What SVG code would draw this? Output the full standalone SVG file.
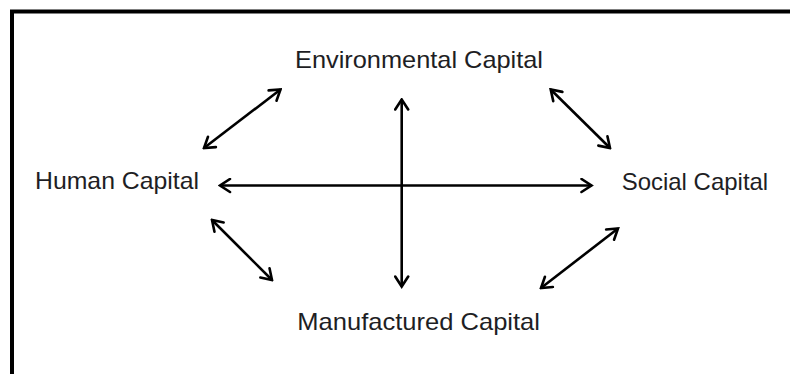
<svg xmlns="http://www.w3.org/2000/svg" width="790" height="374" viewBox="0 0 790 374">
  <style>
    .label { font-family: "Liberation Sans", Arial, sans-serif; font-size: 24px; fill: #1e1e24; }
    .link { stroke: #000; stroke-width: 2.6; fill: none; marker-start: url(#head); marker-end: url(#head); }
  </style>
  <defs>
    <marker id="head" markerUnits="userSpaceOnUse" viewBox="-12 -8 14 16" refX="0" refY="0" markerWidth="14" markerHeight="16" orient="auto-start-reverse">
      <path d="M -10 -6.5 L 0 0 L -10 6.5" fill="none" stroke="#000" stroke-width="2.6" stroke-linejoin="miter" stroke-linecap="round"/>
    </marker>
  </defs>

  <rect width="790" height="374" fill="#fff"/>
  <!-- outer frame, running past the right and bottom edges -->
  <rect x="12" y="11.5" width="800" height="400" fill="none" stroke="#000" stroke-width="4"/>

  <g id="connectors">
    <line class="link" x1="220" y1="185.5" x2="591.5" y2="185.5"/>
    <line class="link" x1="401.7" y1="99.5" x2="401.7" y2="286.5"/>
    <line class="link" x1="280.5" y1="89.5" x2="204" y2="148"/>
    <line class="link" x1="550.7" y1="89.5" x2="610" y2="148"/>
    <line class="link" x1="212" y1="220" x2="272" y2="280"/>
    <line class="link" x1="618" y1="228.5" x2="541" y2="288"/>
  </g>

  <g id="environmental">
    <text class="label" x="295" y="68.3" textLength="248" lengthAdjust="spacingAndGlyphs">Environmental Capital</text>
  </g>
  <g id="human">
    <text class="label" x="35" y="189.3" textLength="164" lengthAdjust="spacingAndGlyphs">Human Capital</text>
  </g>
  <g id="social">
    <text class="label" x="621.7" y="190" textLength="146.5" lengthAdjust="spacingAndGlyphs">Social Capital</text>
  </g>
  <g id="manufactured">
    <text class="label" x="297.3" y="330" textLength="242.7" lengthAdjust="spacingAndGlyphs">Manufactured Capital</text>
  </g>
</svg>
